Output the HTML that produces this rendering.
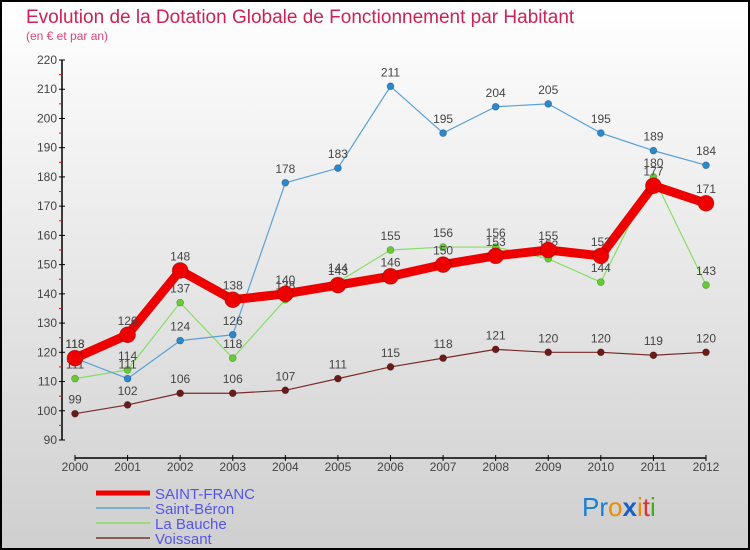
<!DOCTYPE html>
<html><head><meta charset="utf-8"><style>
html,body{margin:0;padding:0;width:750px;height:550px;overflow:hidden;font-family:"Liberation Sans",sans-serif}
</style></head><body>
<svg id="chart" width="750" height="550" xmlns="http://www.w3.org/2000/svg">
<defs><linearGradient id="bg" x1="0" y1="0" x2="0" y2="1"><stop offset="0" stop-color="#ffffff"/><stop offset="1" stop-color="#cfcfcf"/></linearGradient></defs>
<rect x="1" y="1" width="748" height="548" fill="url(#bg)" stroke="#000" stroke-width="2"/>
<text x="26" y="23" font-size="19" fill="#cc2255" font-weight="normal">Evolution de la Dotation Globale de Fonctionnement par Habitant</text>
<text x="26" y="40" font-size="12" fill="#dd4477">(en € et par an)</text>
<g id="axes"></g><g id="series"></g><g id="legend"></g>
<g font-size="26" font-family="Liberation Sans, sans-serif">
<text x="582" y="516"><tspan fill="#1a7fd4">Pr</tspan><tspan fill="#f08a00">o</tspan><tspan fill="#1a5fc4" font-weight="bold">x</tspan><tspan fill="#f08a00">i</tspan><tspan fill="#e03030">t</tspan><tspan fill="#44aa22">i</tspan></text>
</g>
</svg>
<script>
const years=[2000,2001,2002,2003,2004,2005,2006,2007,2008,2009,2010,2011,2012];
const yTicks=[90,100,110,120,130,140,150,160,170,180,190,200,210,220];
const saintFranc=[118,126,148,138,140,143,146,150,153,155,153,177,171];
const saintBeron=[118,111,124,126,178,183,211,195,204,205,195,189,184];
const laBauche=[111,114,137,118,138,144,155,156,156,152,144,180,143];
const voissant=[99,102,106,106,107,111,115,118,121,120,120,119,120];
const NS="http://www.w3.org/2000/svg";
const x0=75,x1=706,yb=440,yt=60,vmin=90,vmax=220;
const xs=i=>x0+(x1-x0)*i/(years.length-1);
const ys=v=>yb-(v-vmin)*(yb-yt)/(vmax-vmin);
function mk(tag,attrs,parent){const e=document.createElementNS(NS,tag);for(const k in attrs)e.setAttribute(k,attrs[k]);parent.appendChild(e);return e;}
const axes=document.getElementById('axes');
let el=mk('line',{x1:62,y1:yt,x2:62,y2:yb,stroke:'#000','stroke-width':1.5},axes);


el=mk('line',{x1:x0,y1:458,x2:x1,y2:458,stroke:'#000','stroke-width':1.5},axes);


yTicks.forEach((v,i)=>{
  mk('line',{x1:59,y1:ys(v),x2:65,y2:ys(v),stroke:'#000'},axes);
  if(i<yTicks.length-1) mk('line',{x1:59,y1:ys(v+5),x2:62,y2:ys(v+5),stroke:'#f00'},axes);
  const t=mk('text',{x:57,y:ys(v)+4,'font-size':12,'text-anchor':'end',fill:'#444'},axes);
  t.textContent=v;
  
  
});
years.forEach((y,i)=>{
  mk('line',{x1:xs(i),y1:455,x2:xs(i),y2:461,stroke:'#000'},axes);
  const t=mk('text',{x:xs(i),y:471,'font-size':12,'text-anchor':'middle',fill:'#444'},axes);
  t.textContent=y;
  
  
});
const series=[
 {name:'voissant',data:voissant,color:'#7a2a2a',pt:'#6b1a1a',w:1.2,r:3.5},
 {name:'la-bauche',data:laBauche,color:'#88dd66',pt:'#66cc33',w:1.2,r:3.5},
 {name:'saint-beron',data:saintBeron,color:'#5aa0d8',pt:'#2a88cc',w:1.2,r:3.5},
 {name:'saint-franc',data:saintFranc,color:'#ee0000',pt:'#ee0000',w:9,r:8}
];
const sg=document.getElementById('series');
series.forEach(s=>{
  const g=mk('g',{},sg);
  
  
  const pts=s.data.map((v,i)=>xs(i)+','+ys(v)).join(' ');
  const pl=mk('polyline',{points:pts,fill:'none',stroke:s.color,'stroke-width':s.w,'stroke-linejoin':'round'},g);
  
  
  s.data.forEach((v,i)=>{
    const c=mk('circle',{cx:xs(i),cy:ys(v),r:s.r,fill:s.pt,stroke:'rgba(0,0,0,0.25)','stroke-width':0.8},g);
    
    
    const t=mk('text',{x:xs(i),y:ys(v)-10,'font-size':12,'text-anchor':'middle',fill:'#444'},g);
    t.textContent=v;
    
    
  });
});
const lg=document.getElementById('legend');
const leg=[['SAINT-FRANC','#ee0000',5],['Saint-Béron','#7aaed0',2],['La Bauche','#99dd77',2],['Voissant','#8a5a5a',2]];
leg.forEach((l,i)=>{
  const y=493+i*15;
  const g=mk('g',{},lg);
  
  
  mk('line',{x1:96,y1:y,x2:150,y2:y,stroke:l[1],'stroke-width':l[2]},g);
  const t=mk('text',{x:155,y:y+6,'font-size':15,fill:'#5555ee'},g);
  t.textContent=l[0];
});
</script>
</body></html>
